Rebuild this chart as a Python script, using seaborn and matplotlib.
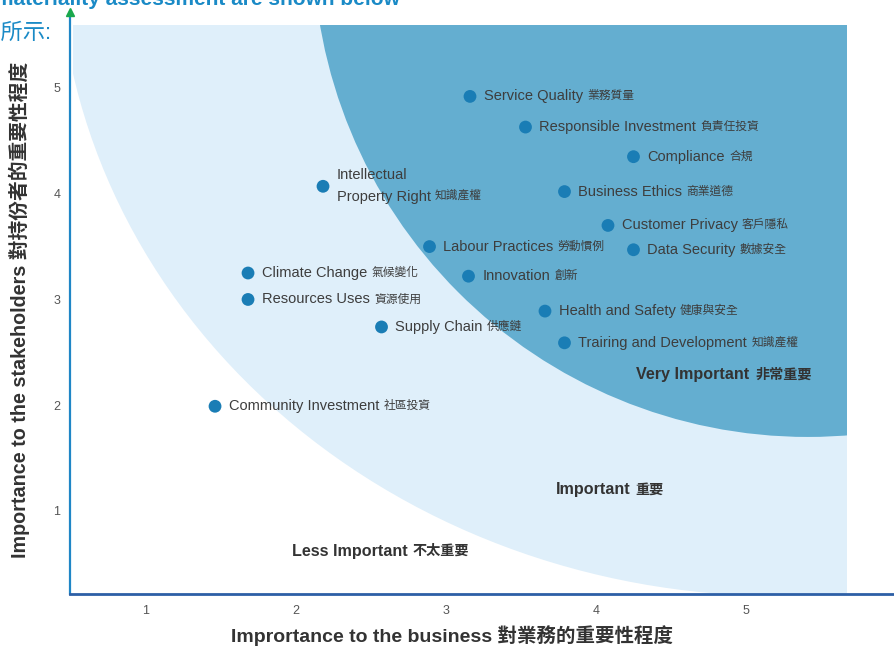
import matplotlib
matplotlib.use("Agg")
import matplotlib.pyplot as plt
from matplotlib.patches import Ellipse, Rectangle
import pandas as pd
import seaborn as sns

# materiality matrix values
topics_en = ["Service Quality", "Responsible Investment", "Compliance",
             "Intellectual\nProperty Right", "Business Ethics", "Customer Privacy",
             "Labour Practices", "Data Security", "Climate Change", "Innovation",
             "Resources Uses", "Health and Safety", "Supply Chain",
             "Trairing and Development", "Community Investment"]
topics_cn = ["業務質量", "負責任投資", "合規", "知識產權", "商業道德", "客戶隱私",
             "勞動慣例", "數據安全", "氣候變化", "創新", "資源使用", "健康與安全",
             "供應鏈", "知識產權", "社區投資"]
business = [3.16, 3.53, 4.25, 2.18, 3.79, 4.08, 2.89, 4.25, 1.68, 3.15,
            1.68, 3.66, 2.57, 3.79, 1.46]
stakeholders = [4.92, 4.63, 4.35, 4.07, 4.02, 3.70, 3.50, 3.47, 3.25, 3.22,
                3.00, 2.89, 2.74, 2.59, 1.99]

zones_en = ["Very Important", "Important", "Less Important"]
zones_cn = ["非常重要", "重要", "不太重要"]
zones_x = [4.27, 3.73, 1.97]
zones_y = [2.29, 1.20, 0.62]

ticks = [1, 2, 3, 4, 5]

df = pd.DataFrame({"business": business, "stakeholders": stakeholders})

sns.set_style("white")
plt.rcParams["font.family"] = ["Liberation Sans", "Noto Sans CJK TC", "DejaVu Sans"]

fig = plt.figure(figsize=(8.94, 6.46), dpi=100)
ax = fig.add_axes([70 / 894, 52 / 646, 824 / 894, 582 / 646])
ax.set_xlim(0.493, 5.987)
ax.set_ylim(0.215, 5.718)

# background zones
frame = Rectangle((0.513, 0.215), 5.673 - 0.513, 5.596 - 0.215, transform=ax.transData)
light = Ellipse((5.227, 6.40), 9.63, 12.41, facecolor="#dfeffa", edgecolor="none", zorder=0)
dark = Ellipse((5.413, 6.381), 6.6, 9.362, facecolor="#64aed0", edgecolor="none", zorder=1)
for e in (light, dark):
    ax.add_patch(e)
    e.set_clip_path(frame)

sns.scatterplot(data=df, x="business", y="stakeholders", s=85, color="#1a7db5",
                edgecolor="none", zorder=3, ax=ax, legend=False)

for en, cn, x, y in zip(topics_en, topics_cn, business, stakeholders):
    t = ax.annotate(en, xy=(x, y), xytext=(10, 0), textcoords="offset points",
                    va="center", ha="left", fontsize=10.5, color="#3d3d3d",
                    linespacing=1.75, zorder=4)
    frac = 0.25 if "\n" in en else 0.5
    ax.annotate(cn, xy=(1, frac), xycoords=t, xytext=(3, 0), textcoords="offset points",
                va="center", ha="left", fontsize=8.5, color="#3d3d3d", zorder=4)

for en, cn, x, y in zip(zones_en, zones_cn, zones_x, zones_y):
    t = ax.text(x, y, en, va="center", ha="left", fontsize=11.6,
                fontweight="bold", color="#333333", zorder=4)
    ax.annotate(cn, xy=(1, 0.5), xycoords=t, xytext=(4, 0), textcoords="offset points",
                va="center", ha="left", fontsize=10.2, fontweight="bold", color="#333333",
                zorder=4)

ax.set_xticks(ticks)
ax.set_yticks(ticks)
ax.tick_params(length=0, labelsize=9, labelcolor="#555555")
ax.tick_params(axis="x", pad=8)
ax.tick_params(axis="y", pad=7)

for s in ("top", "right"):
    ax.spines[s].set_visible(False)
ax.spines["left"].set_color("#1f86c6")
ax.spines["left"].set_linewidth(1.6)
ax.spines["bottom"].set_color("#2d5fa6")
ax.spines["bottom"].set_linewidth(2)
ax.plot(0, 1, marker="^", markersize=6, color="#19a84c", transform=ax.transAxes,
        clip_on=False, zorder=5)

ax.set_xlabel("Imprortance to the business 對業務的重要性程度", fontsize=14,
              fontweight="bold", color="#333333")
ax.set_ylabel("Importance to the stakeholders 對持份者的重要性程度", fontsize=14.2,
              fontweight="bold", color="#333333")
ax.xaxis.set_label_coords(0.464, -0.053)
ax.yaxis.set_label_coords(-0.048, 0.488)

# page text cut off by the crop
fig.text(-0.006, 1 - 5 / 646, "materiality assessment are shown below", fontsize=15,
         fontweight="bold", color="#1a8ac6", va="baseline", ha="left")
fig.text(51 / 894, 1 - 33 / 646, "如下所示:", fontsize=16, color="#1a8ac6",
         va="center", ha="right")

fig.savefig("out.png", dpi=100)
